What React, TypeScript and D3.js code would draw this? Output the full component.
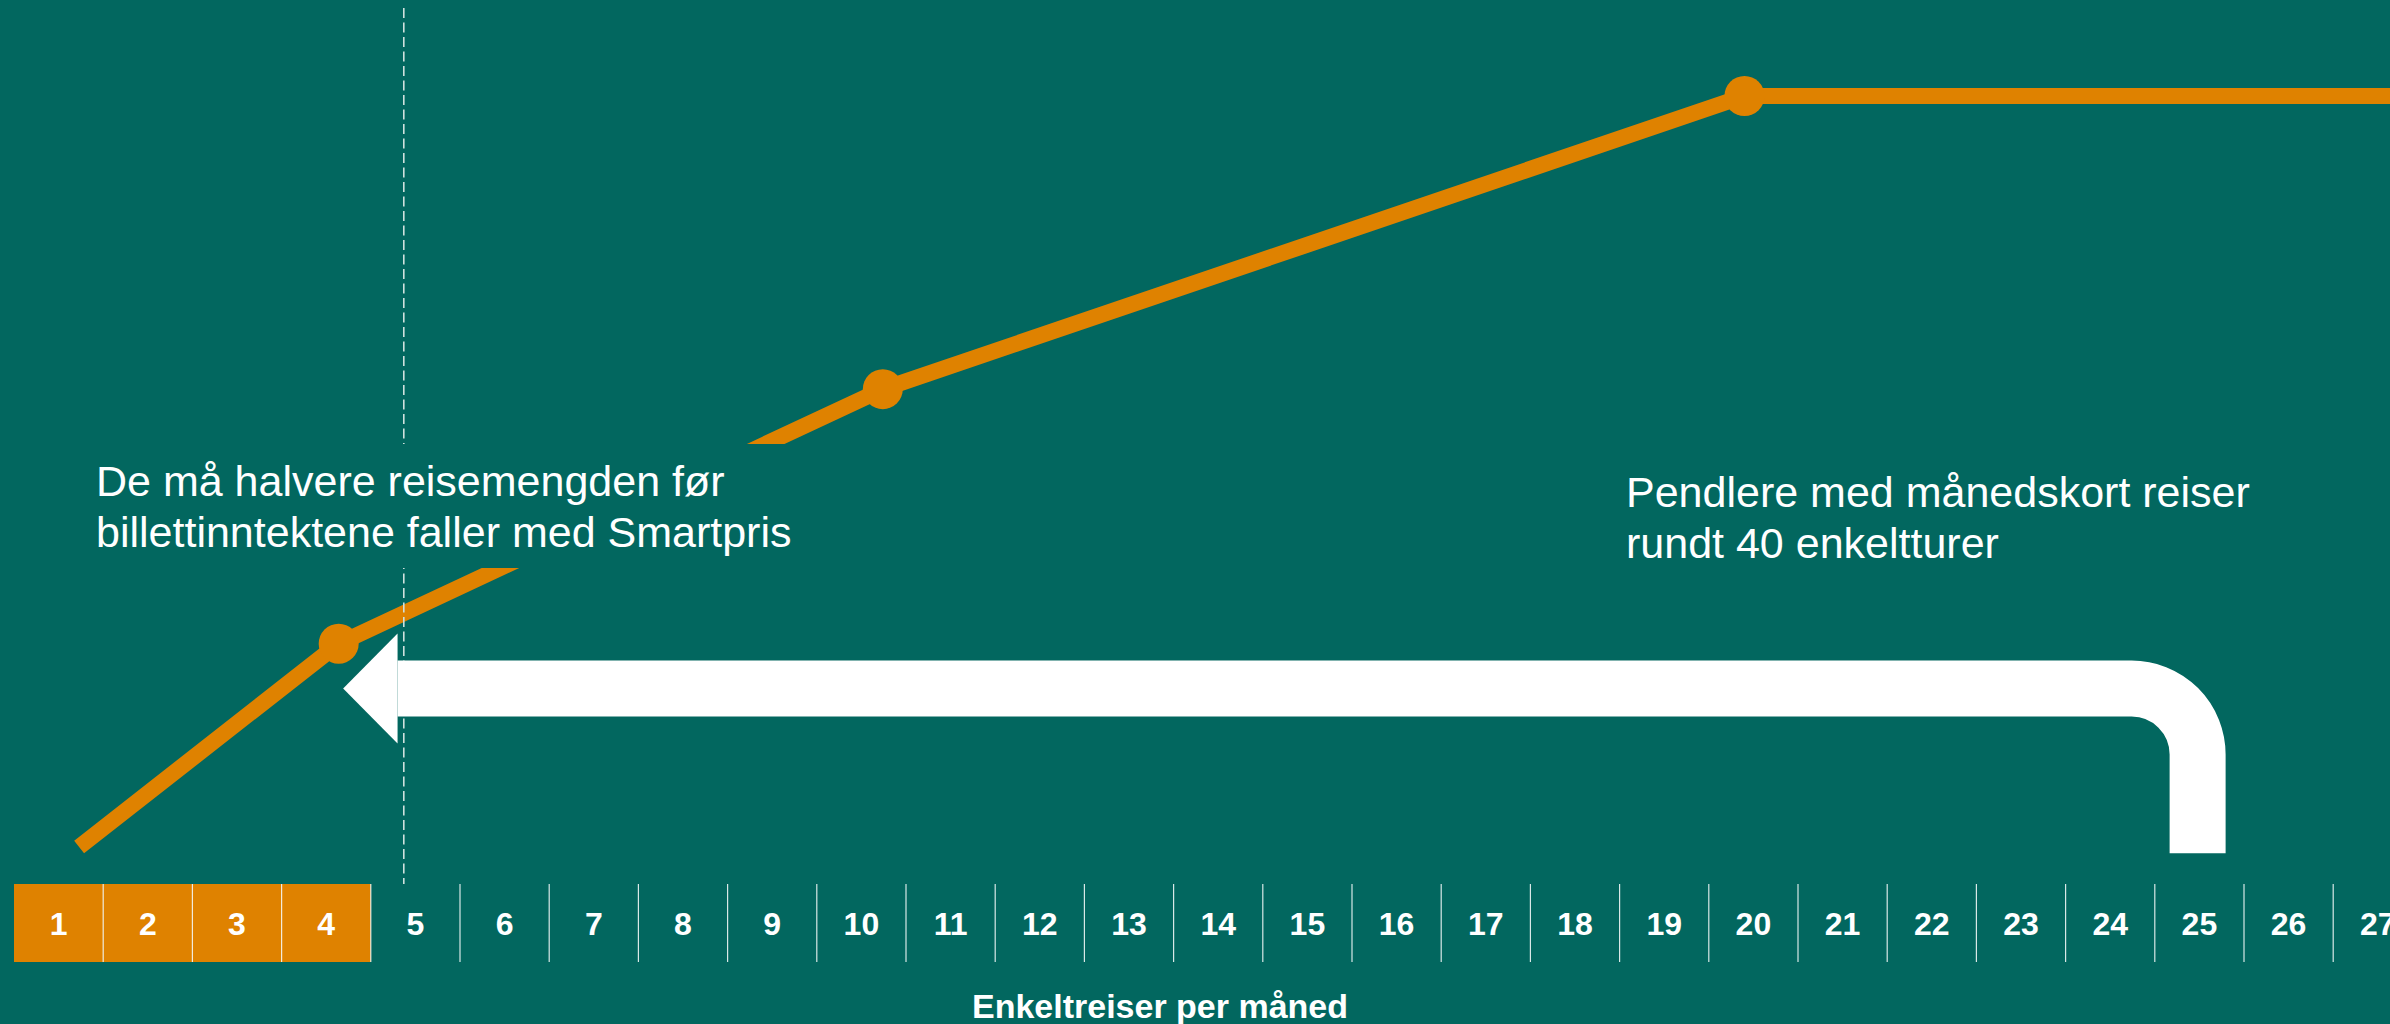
import React from 'react';
import * as d3 from 'd3';

const W = 2390;
const H = 1024;
const BG = '#02675F';
const ORANGE = '#DF8200';

// categories: trips per month shown on the band axis
const trips: number[] = [1, 2, 3, 4, 5, 6, 7, 8, 9, 10, 11, 12, 13, 14, 15, 16, 17, 18, 19, 20, 21, 22, 23, 24, 25, 26, 27];
const highlightedTrips: number[] = [1, 2, 3, 4];

// revenue curve (x in trips, y in relative revenue index)
const lineX: number[] = [0.73, 3.64, 9.74, 19.4, 27];
const lineY: number[] = [4.7, 30.5, 62.8, 100, 100];
const markerIndex: number[] = [1, 2, 3];

// threshold (dashed line) in trips
const threshold = 4.37;

// arrow annotation (trips / index units)
const arrowFromX = 24.48;
const arrowTipX = 3.69;
const arrowHeadBaseX = 4.3;
const arrowY = 24.8;
const arrowBottomY = 3.9;

const leftNote: string[] = ['De må halvere reisemengden før', 'billettinntektene faller med Smartpris'];
const rightNote: string[] = ['Pendlere med månedskort reiser', 'rundt 40 enkeltturer'];
const axisTitle = 'Enkeltreiser per måned';

const FONT = '"Liberation Sans", Arial, Helvetica, sans-serif';

export default function App() {
  const x = d3.scaleLinear().domain([0, 26]).range([14, 14 + 26 * 89.2]);
  const y = d3.scaleLinear().domain([0, 100]).range([884, 96]);

  const axisTop = 884;
  const axisBottom = 962;

  const pts: [number, number][] = lineX.map((v, i) => [v, lineY[i]]);
  const linePath = d3
    .line<[number, number]>()
    .x((d) => x(d[0]))
    .y((d) => y(d[1]))(pts) as string;

  const sy = y(arrowY);
  const cx = x(arrowFromX);
  const r = 66;
  const bottom = y(arrowBottomY);
  const hb = x(arrowHeadBaseX);
  const tip = x(arrowTipX);
  const arrowPath = `M${hb},${sy} L${cx - r},${sy} A${r},${r} 0 0 1 ${cx},${sy + r} L${cx},${bottom}`;
  const headHalf = 55;

  return (
    <svg
      width={W}
      height={H}
      viewBox={`0 0 ${W} ${H}`}
      style={{ position: 'absolute', left: 0, top: 0, display: 'block' }}
      fontFamily={FONT}
    >
      <rect x={0} y={0} width={W} height={H} fill={BG} />

      {/* axis cells */}
      {trips.map((t) => (
        <rect
          key={'c' + t}
          x={x(t - 1)}
          y={axisTop}
          width={x(t) - x(t - 1)}
          height={axisBottom - axisTop}
          fill={highlightedTrips.includes(t) ? ORANGE : 'none'}
        />
      ))}
      {trips.map((t) => (
        <line
          key={'d' + t}
          x1={x(t)}
          x2={x(t)}
          y1={axisTop}
          y2={axisBottom}
          stroke="#ffffff"
          strokeOpacity={0.85}
          strokeWidth={1.2}
        />
      ))}
      {trips.map((t) => (
        <text
          key={'l' + t}
          x={x(t - 0.5)}
          y={935}
          textAnchor="middle"
          fill="#ffffff"
          fontWeight="bold"
          fontSize={32}
        >
          {t}
        </text>
      ))}
      <text x={1160} y={1018} textAnchor="middle" fill="#ffffff" fontWeight="bold" fontSize={34}>
        {axisTitle}
      </text>

      {/* revenue line */}
      <path d={linePath} fill="none" stroke={ORANGE} strokeWidth={16} strokeLinejoin="round" strokeLinecap="butt" />
      {markerIndex.map((i) => (
        <circle key={'m' + i} cx={x(lineX[i])} cy={y(lineY[i])} r={20} fill={ORANGE} />
      ))}

      {/* threshold dashed line */}
      <line
        x1={x(threshold)}
        x2={x(threshold)}
        y1={8}
        y2={axisTop}
        stroke="#cfe0dd"
        strokeWidth={1.6}
        strokeDasharray="10 4.5"
      />

      {/* left note with background box */}
      <rect x={88} y={444} width={712} height={124} fill={BG} />
      {leftNote.map((s, i) => (
        <text key={'ln' + i} x={96} y={496 + i * 51} fill="#ffffff" fontSize={43}>
          {s}
        </text>
      ))}

      {/* right note */}
      {rightNote.map((s, i) => (
        <text key={'rn' + i} x={1626} y={507 + i * 51} fill="#ffffff" fontSize={43}>
          {s}
        </text>
      ))}

      {/* arrow */}
      <path d={arrowPath} fill="none" stroke="#ffffff" strokeWidth={56} strokeLinecap="butt" />
      <polygon
        points={`${tip},${sy} ${hb},${sy - headHalf} ${hb},${sy + headHalf}`}
        fill="#ffffff"
      />
    </svg>
  );
}
